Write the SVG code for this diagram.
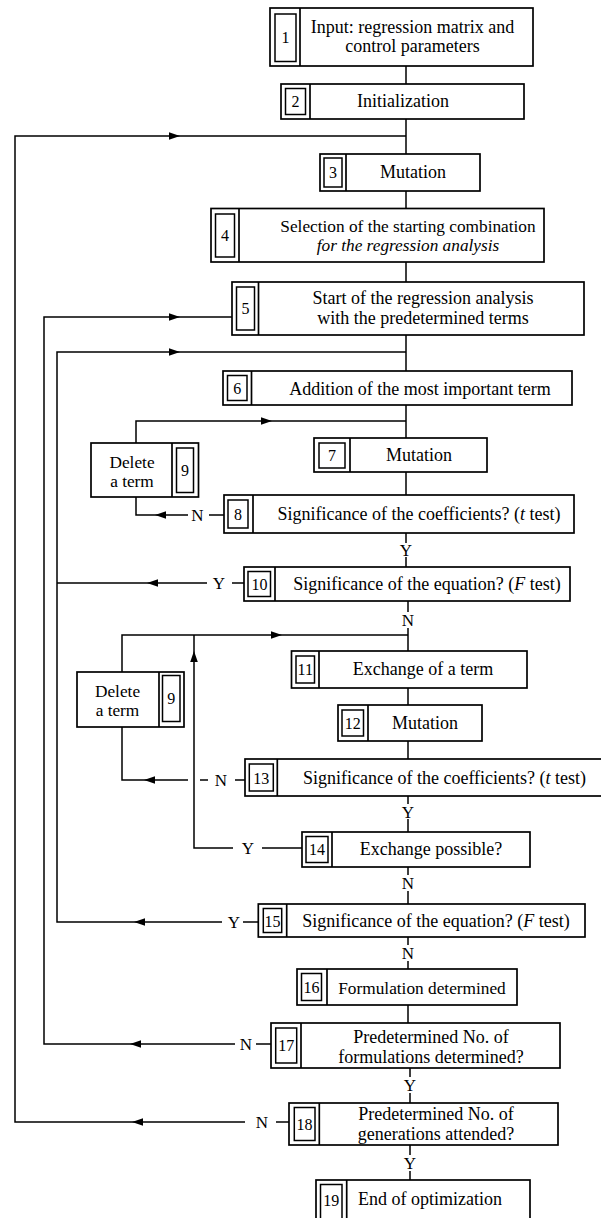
<svg xmlns="http://www.w3.org/2000/svg" xmlns:xlink="http://www.w3.org/1999/xlink" width="601" height="1218" viewBox="0 0 601 1218">
<style>
.b{fill:#fff;stroke:#000;stroke-width:1.7}
.i{fill:none;stroke:#000;stroke-width:1.5}
.d{stroke:#000;stroke-width:1.7}
.c{fill:none;stroke:#000;stroke-width:1.5}
.t{font-family:"Liberation Serif","Times New Roman",serif;font-size:18px;text-anchor:middle;fill:#000}
.s{font-size:17.3px}
.n{font-family:"Liberation Serif","Times New Roman",serif;font-size:16px;text-anchor:middle;fill:#000}
.l{font-family:"Liberation Serif","Times New Roman",serif;font-size:17px;text-anchor:middle;fill:#000}
.it{font-style:italic}
</style>
<defs>
<path id="ah" d="M0,0 L-11,-3.8 L-11,3.8 Z" fill="#000"/>
</defs>
<rect width="601" height="1218" fill="#fff"/>
<g id="connectors">
<path class="c" d="M406,66V84 M406,119V154 M406,191V208.5 M406,262V282 M406,335V371 M406,405V438 M406,472V495 M406,533V543 M406,557V567"/>
<path class="c" d="M408,601V612 M408,628V651 M408,688V705 M408,741V759 M408,796V804 M408,819V832 M408,867V875 M408,891V904 M408,937V945 M408,961V969 M408,1005V1023"/>
<path class="c" d="M410,1068V1077 M410,1093V1103 M410,1145V1155 M410,1171V1180"/>
<path class="c" d="M245,1122H15V136H406 M276,1122H289"/>
<path class="c" d="M235,1044H44V317H232 M256,1044H271"/>
<path class="c" d="M222,922H57V352H406 M243,922H258 M207,583H57 M232,583H244"/>
<path class="c" d="M136,443V421H406 M188,515H136V497 M209,515H224"/>
<path class="c" d="M122,672V635H408 M122,727V780H188 M200,780H208 M235,780H245 M233,848H194V635 M262,848H302"/>
<use xlink:href="#ah" transform="translate(180,136)"/>
<use xlink:href="#ah" transform="translate(180,317)"/>
<use xlink:href="#ah" transform="translate(180,352)"/>
<use xlink:href="#ah" transform="translate(272,421)"/>
<use xlink:href="#ah" transform="translate(282,635)"/>
<use xlink:href="#ah" transform="translate(194,651) rotate(-90)"/>
<use xlink:href="#ah" transform="translate(155,515) rotate(180)"/>
<use xlink:href="#ah" transform="translate(147,583) rotate(180)"/>
<use xlink:href="#ah" transform="translate(144,780) rotate(180)"/>
<use xlink:href="#ah" transform="translate(134,922) rotate(180)"/>
<use xlink:href="#ah" transform="translate(130,1044) rotate(180)"/>
<use xlink:href="#ah" transform="translate(132,1122) rotate(180)"/>
<text class="l" x="406" y="556">Y</text>
<text class="l" x="408" y="626">N</text>
<text class="l" x="408" y="818">Y</text>
<text class="l" x="408" y="889">N</text>
<text class="l" x="408" y="959">N</text>
<text class="l" x="410" y="1091">Y</text>
<text class="l" x="410" y="1169">Y</text>
<text class="l" x="197.5" y="521">N</text>
<text class="l" x="219" y="589">Y</text>
<text class="l" x="221" y="786">N</text>
<text class="l" x="248" y="854">Y</text>
<text class="l" x="234" y="928">Y</text>
<text class="l" x="246" y="1050">N</text>
<text class="l" x="262" y="1128">N</text>
</g>
<g id="node1"><rect class="b" x="270" y="8" width="263" height="58"/><line class="d" x1="300" y1="8" x2="300" y2="66"/><rect class="i" x="275" y="14" width="21" height="47.5"/><text class="n" x="285.5" y="43">1</text><text class="t" x="412.5" y="33">Input: regression matrix and</text><text class="t" x="412.5" y="52">control parameters</text></g>
<g id="node2"><rect class="b" x="281" y="84" width="243" height="35"/><line class="d" x1="310" y1="84" x2="310" y2="119"/><rect class="i" x="285.5" y="88.5" width="20" height="26"/><text class="n" x="295.5" y="107">2</text><text class="t" x="403" y="107">Initialization</text></g>
<g id="node3"><rect class="b" x="320" y="154" width="160" height="37"/><line class="d" x1="346" y1="154" x2="346" y2="191"/><rect class="i" x="324" y="158" width="18" height="29"/><text class="n" x="333" y="178">3</text><text class="t" x="413" y="178">Mutation</text></g>
<g id="node4"><rect class="b" x="211" y="208.5" width="333" height="53.5"/><line class="d" x1="239" y1="208.5" x2="239" y2="262"/><rect class="i" x="215.5" y="214" width="19" height="43"/><text class="n" x="225" y="241">4</text><text class="t s" x="408" y="232">Selection of the starting combination</text><text class="t s it" x="408" y="251">for the regression analysis</text></g>
<g id="node5"><rect class="b" x="232" y="282" width="352" height="53"/><line class="d" x1="258.5" y1="282" x2="258.5" y2="335"/><rect class="i" x="236.5" y="287" width="18" height="43"/><text class="n" x="245.5" y="314">5</text><text class="t" x="423" y="304">Start of the regression analysis</text><text class="t" x="423" y="324">with the predetermined terms</text></g>
<g id="node6"><rect class="b" x="223" y="371" width="349" height="34"/><line class="d" x1="251.5" y1="371" x2="251.5" y2="405"/><rect class="i" x="227.5" y="375.5" width="19.5" height="25"/><text class="n" x="237.2" y="394">6</text><text class="t" x="420" y="395">Addition of the most important term</text></g>
<g id="node7"><rect class="b" x="314" y="438" width="173" height="34"/><line class="d" x1="350" y1="438" x2="350" y2="472"/><rect class="i" x="319" y="443" width="26" height="25"/><text class="n" x="332" y="461">7</text><text class="t" x="419" y="461">Mutation</text></g>
<g id="node8"><rect class="b" x="224" y="495" width="350" height="38"/><line class="d" x1="253" y1="495" x2="253" y2="533"/><rect class="i" x="228" y="500" width="20" height="28"/><text class="n" x="238" y="520">8</text><text class="t" x="419" y="520">Significance of the coefficients? (<tspan class="it">t</tspan> test)</text></g>
<g id="node9a"><rect class="b" x="91" y="443" width="107.5" height="54"/><line class="d" x1="172" y1="443" x2="172" y2="497"/><rect class="i" x="176.5" y="448" width="17" height="44.5"/><text class="n" x="185" y="476">9</text><text class="t s" x="132" y="468">Delete</text><text class="t s" x="132" y="487">a term</text></g>
<g id="node10"><rect class="b" x="244" y="567" width="326" height="34"/><line class="d" x1="275" y1="567" x2="275" y2="601"/><rect class="i" x="248" y="571.5" width="22.5" height="25"/><text class="n" x="259.5" y="590">10</text><text class="t" x="427" y="589.5">Significance of the equation? (<tspan class="it">F</tspan> test)</text></g>
<g id="node11"><rect class="b" x="291.5" y="651" width="235.5" height="37"/><line class="d" x1="319" y1="651" x2="319" y2="688"/><rect class="i" x="296" y="656" width="18.5" height="27"/><text class="n" x="305.3" y="675">11</text><text class="t" x="423" y="675">Exchange of a term</text></g>
<g id="node9b"><rect class="b" x="77" y="672" width="107" height="55"/><line class="d" x1="159" y1="672" x2="159" y2="727"/><rect class="i" x="162.5" y="675.5" width="17.5" height="46"/><text class="n" x="171.3" y="704">9</text><text class="t s" x="117.5" y="697">Delete</text><text class="t s" x="117.5" y="716">a term</text></g>
<g id="node12"><rect class="b" x="338" y="705" width="144" height="36"/><line class="d" x1="368" y1="705" x2="368" y2="741"/><rect class="i" x="342" y="710" width="21.5" height="26"/><text class="n" x="352.8" y="729">12</text><text class="t" x="425" y="729">Mutation</text></g>
<g id="node13"><rect class="b" x="245" y="759" width="367" height="37"/><line class="d" x1="277.3" y1="759" x2="277.3" y2="796"/><rect class="i" x="249.3" y="764" width="24" height="27"/><text class="n" x="261.3" y="784">13</text><text class="t" x="444.5" y="784">Significance of the coefficients? (<tspan class="it">t</tspan> test)</text></g>
<g id="node14"><rect class="b" x="302" y="832" width="228" height="35"/><line class="d" x1="332" y1="832" x2="332" y2="867"/><rect class="i" x="306" y="836.5" width="22" height="26"/><text class="n" x="317" y="855">14</text><text class="t" x="431" y="855">Exchange possible?</text></g>
<g id="node15"><rect class="b" x="258.3" y="904" width="326.7" height="33"/><line class="d" x1="286.7" y1="904" x2="286.7" y2="937"/><rect class="i" x="263.3" y="908.5" width="18.4" height="24"/><text class="n" x="272.5" y="926.5">15</text><text class="t" x="436" y="927">Significance of the equation? (<tspan class="it">F</tspan> test)</text></g>
<g id="node16"><rect class="b" x="297" y="969" width="220" height="36"/><line class="d" x1="327" y1="969" x2="327" y2="1005"/><rect class="i" x="301.5" y="973.5" width="20" height="27"/><text class="n" x="311.5" y="993">16</text><text class="t s" x="422" y="994">Formulation determined</text></g>
<g id="node17"><rect class="b" x="271" y="1023" width="289" height="45"/><line class="d" x1="301" y1="1023" x2="301" y2="1068"/><rect class="i" x="275.7" y="1028" width="21" height="35"/><text class="n" x="286.2" y="1051">17</text><text class="t" x="431" y="1043">Predetermined No. of</text><text class="t" x="431" y="1063">formulations determined?</text></g>
<g id="node18"><rect class="b" x="289" y="1103" width="269" height="42"/><line class="d" x1="319.3" y1="1103" x2="319.3" y2="1145"/><rect class="i" x="294.3" y="1107.5" width="20.7" height="33"/><text class="n" x="304.6" y="1130">18</text><text class="t" x="436" y="1120">Predetermined No. of</text><text class="t" x="436" y="1140">generations attended?</text></g>
<g id="node19"><rect class="b" x="316" y="1180" width="214" height="46"/><line class="d" x1="346.7" y1="1180" x2="346.7" y2="1226"/><rect class="i" x="320.5" y="1184.5" width="21.5" height="42"/><text class="n" x="331.2" y="1206">19</text><text class="t" x="430" y="1205">End of optimization</text></g>
</svg>
